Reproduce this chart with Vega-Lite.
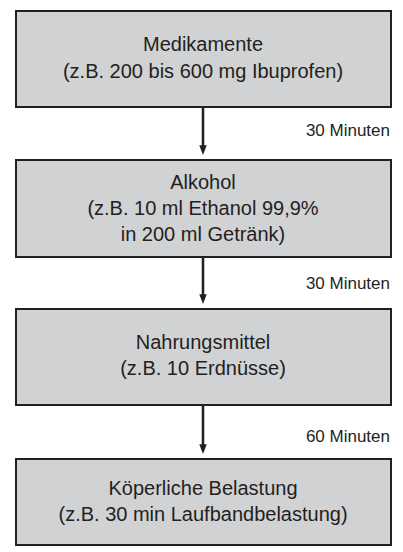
{
  "$schema": "https://vega.github.io/schema/vega-lite/v6.json",
  "width": 403,
  "height": 552,
  "padding": 0,
  "autosize": {"type": "none"},
  "background": "white",
  "config": {"view": {"stroke": null}},
  "datasets": {
    "boxes": [
      {"step": "Medikamente", "x0": 16, "x1": 391, "top": 11, "bottom": 107},
      {"step": "Alkohol", "x0": 16, "x1": 391, "top": 160, "bottom": 257},
      {"step": "Nahrungsmittel", "x0": 16, "x1": 391, "top": 309, "bottom": 405},
      {"step": "Belastung", "x0": 16, "x1": 391, "top": 459, "bottom": 545}
    ],
    "lines": [
      {"label": "Medikamente", "x": 203, "y": 45},
      {"label": "(z.B. 200 bis 600 mg Ibuprofen)", "x": 203, "y": 72},
      {"label": "Alkohol", "x": 203, "y": 183},
      {"label": "(z.B. 10 ml Ethanol 99,9%", "x": 203, "y": 209},
      {"label": "in 200 ml Getränk)", "x": 203, "y": 235},
      {"label": "Nahrungsmittel", "x": 203, "y": 343},
      {"label": "(z.B. 10 Erdnüsse)", "x": 203, "y": 369},
      {"label": "Köperliche Belastung", "x": 203, "y": 489},
      {"label": "(z.B. 30 min Laufbandbelastung)", "x": 203, "y": 515}
    ],
    "arrows": [
      {"x": 203, "from": 107, "to": 146, "head": 150, "time": "30 Minuten", "tx": 390, "ty": 131},
      {"x": 203, "from": 257, "to": 295, "head": 299, "time": "30 Minuten", "tx": 390, "ty": 284},
      {"x": 203, "from": 405, "to": 445, "head": 449, "time": "60 Minuten", "tx": 390, "ty": 437}
    ]
  },
  "layer": [
    {
      "data": {"name": "boxes"},
      "mark": {"type": "rect", "fill": "#d1d2d4", "stroke": "#231f20", "strokeWidth": 2},
      "encoding": {
        "x": {"field": "x0", "type": "quantitative", "scale": {"domain": [0, 403], "nice": false, "zero": false}, "axis": null},
        "x2": {"field": "x1"},
        "y": {"field": "top", "type": "quantitative", "scale": {"domain": [0, 552], "reverse": true, "nice": false, "zero": false}, "axis": null},
        "y2": {"field": "bottom"}
      }
    },
    {
      "data": {"name": "arrows"},
      "mark": {"type": "rule", "stroke": "#231f20", "strokeWidth": 2.5},
      "encoding": {
        "x": {"field": "x", "type": "quantitative", "scale": {"domain": [0, 403], "nice": false, "zero": false}, "axis": null},
        "y": {"field": "from", "type": "quantitative", "scale": {"domain": [0, 552], "reverse": true, "nice": false, "zero": false}, "axis": null},
        "y2": {"field": "to"}
      }
    },
    {
      "data": {"name": "arrows"},
      "mark": {"type": "point", "shape": "M-0.5,-0.65L0.5,-0.65L0,0.65Z", "size": 225, "filled": true, "fill": "#231f20", "stroke": null, "opacity": 1},
      "encoding": {
        "x": {"field": "x", "type": "quantitative", "scale": {"domain": [0, 403], "nice": false, "zero": false}, "axis": null},
        "y": {"field": "head", "type": "quantitative", "scale": {"domain": [0, 552], "reverse": true, "nice": false, "zero": false}, "axis": null}
      }
    },
    {
      "data": {"name": "arrows"},
      "mark": {"type": "text", "align": "right", "baseline": "middle", "font": "Liberation Sans", "fontSize": 17, "fill": "#231f20"},
      "encoding": {
        "x": {"field": "tx", "type": "quantitative", "scale": {"domain": [0, 403], "nice": false, "zero": false}, "axis": null},
        "y": {"field": "ty", "type": "quantitative", "scale": {"domain": [0, 552], "reverse": true, "nice": false, "zero": false}, "axis": null},
        "text": {"field": "time"}
      }
    },
    {
      "data": {"name": "lines"},
      "mark": {"type": "text", "align": "center", "baseline": "middle", "font": "Liberation Sans", "fontSize": 20, "fill": "#231f20"},
      "encoding": {
        "x": {"field": "x", "type": "quantitative", "scale": {"domain": [0, 403], "nice": false, "zero": false}, "axis": null},
        "y": {"field": "y", "type": "quantitative", "scale": {"domain": [0, 552], "reverse": true, "nice": false, "zero": false}, "axis": null},
        "text": {"field": "label"}
      }
    }
  ]
}
